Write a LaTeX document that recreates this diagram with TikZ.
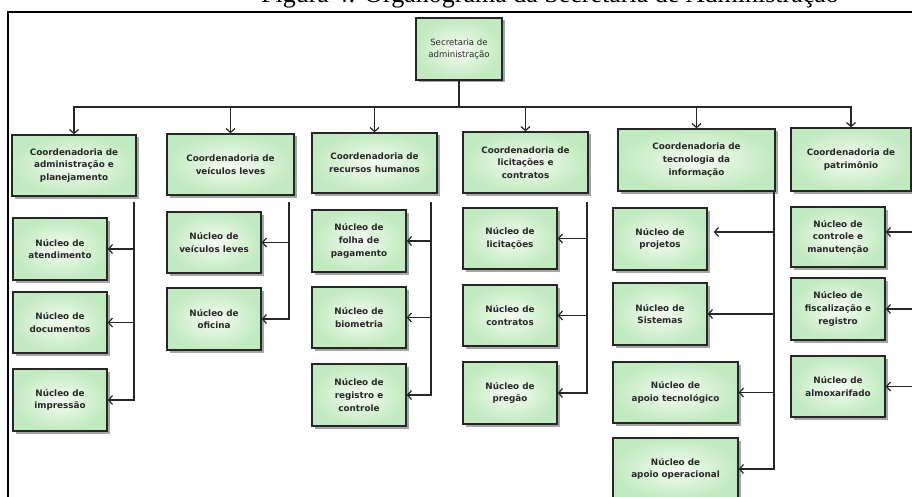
\documentclass[tikz,border=0pt]{standalone}
\usepackage{fontspec}
\usetikzlibrary{arrows.meta,shadows}
\newfontfamily\boxfont{DejaVu Sans}
\newfontfamily\titlefont{Liberation Serif}
\definecolor{boxin}{RGB}{244,252,242}
\definecolor{boxout}{RGB}{194,234,192}
\definecolor{boxtext}{RGB}{40,40,40}
\tikzset{
  orgbox/.style={draw=black!85, line width=1.4pt, inner sep=2pt, align=center,
    inner color=boxin, outer color=boxout, text=boxtext,
    font=\boxfont\bfseries\fontsize{8.8}{12.6}\selectfont,
    drop shadow={shadow xshift=2.5pt, shadow yshift=-2.5pt, opacity=0.35, fill=black}},
  wire/.style={draw=black!85, line width=1.6pt},
  arr/.style={wire, -{Straight Barb[length=4pt,width=9pt,line width=1.2pt]}},
}
\begin{document}
\begin{tikzpicture}[x=1pt,y=-1pt]
\useasboundingbox (0,0) rectangle (912,497);
\clip (0,0) rectangle (912,497);
\fill[white] (0,0) rectangle (912,497);
% title (cut at the top, as in the reference)
\node[anchor=base, inner sep=0pt, font=\titlefont\fontsize{26}{30}\selectfont] (title) at (550,2.5) {Figura 4: Organograma da Secretaria de Administração};
% frame
\draw[line width=1.2pt] (8,510) -- (8,12) -- (930,12);
% top
\node[orgbox, minimum width=86pt, minimum height=62pt, font=\boxfont\fontsize{8.6}{12.4}\selectfont] (sec) at (459,49) {Secretaria de\\administração};
% coordinations
\node[orgbox, minimum width=124pt, minimum height=61pt] (c1) at (74,165.5) {Coordenadoria de\\administração e\\planejamento};
\node[orgbox, minimum width=127pt, minimum height=61pt] (c2) at (230.5,164.5) {Coordenadoria de\\veículos leves};
\node[orgbox, minimum width=125pt, minimum height=60pt] (c3) at (374.5,163) {Coordenadoria de\\recursos humanos};
\node[orgbox, minimum width=125pt, minimum height=61pt] (c4) at (525.5,162.5) {Coordenadoria de\\licitações e\\contratos};
\node[orgbox, minimum width=157pt, minimum height=62pt] (c5) at (696.5,160) {Coordenadoria de\\tecnologia da\\informação};
\node[orgbox, minimum width=120pt, minimum height=63pt] (c6) at (851,159.5) {Coordenadoria de\\patrimônio};
% nuclei
\node[orgbox, minimum width=94pt, minimum height=62pt] (n1a) at (60,249) {Núcleo de\\atendimento};
\node[orgbox, minimum width=94pt, minimum height=61pt] (n1b) at (60,322.5) {Núcleo de\\documentos};
\node[orgbox, minimum width=94pt, minimum height=62pt] (n1c) at (60,400) {Núcleo de\\impressão};
\node[orgbox, minimum width=94pt, minimum height=61pt] (n2a) at (214,242.5) {Núcleo de\\veículos leves};
\node[orgbox, minimum width=94pt, minimum height=62pt] (n2b) at (214,319) {Núcleo de\\oficina};
\node[orgbox, minimum width=94pt, minimum height=62pt] (n3a) at (359,241) {Núcleo de\\folha de\\pagamento};
\node[orgbox, minimum width=94pt, minimum height=61pt] (n3b) at (359,317.5) {Núcleo de\\biometria};
\node[orgbox, minimum width=94pt, minimum height=62pt] (n3c) at (359,395) {Núcleo de\\registro e\\controle};
\node[orgbox, minimum width=94pt, minimum height=61pt] (n4a) at (510,238.5) {Núcleo de\\licitações};
\node[orgbox, minimum width=94pt, minimum height=61pt] (n4b) at (510,315.5) {Núcleo de\\contratos};
\node[orgbox, minimum width=94pt, minimum height=62pt] (n4c) at (510,393) {Núcleo de\\pregão};
\node[orgbox, minimum width=94pt, minimum height=62pt] (n5a) at (660,239) {Núcleo de\\projetos};
\node[orgbox, minimum width=94pt, minimum height=62pt] (n5b) at (660,314) {Núcleo de\\Sistemas};
\node[orgbox, minimum width=125pt, minimum height=61pt] (n5c) at (675.5,392.5) {Núcleo de\\apoio tecnológico};
\node[orgbox, minimum width=125pt, minimum height=62pt] (n5d) at (675.5,469) {Núcleo de\\apoio operacional};
\node[orgbox, minimum width=94pt, minimum height=60pt] (n6a) at (838,237) {Núcleo de\\controle e\\manutenção};
\node[orgbox, minimum width=94pt, minimum height=62pt] (n6b) at (838,309) {Núcleo de\\fiscalização e\\registro};
\node[orgbox, minimum width=94pt, minimum height=61pt] (n6c) at (838,386.5) {Núcleo de\\almoxarifado};
% bus
\coordinate (bus) at (459,107);
\draw[wire] (sec.south) -- (bus);
\foreach \c in {c1,c2,c3,c4,c5,c6} { \draw[arr] (bus) -| (\c.north); }
% branch spines
\coordinate (s1) at (134,202);
\coordinate (s2) at (289,202);
\coordinate (s3) at (431,202);
\coordinate (s4) at (587,202);
\coordinate (s5) at (774,191);
\coordinate (s6) at (918,196);
\draw[wire] (s1) -- (134,400);
\foreach \n in {n1a,n1b,n1c} { \draw[arr] (s1) |- (\n.east); }
\draw[wire] (s2) -- (289,319);
\foreach \n in {n2a,n2b} { \draw[arr] (s2) |- (\n.east); }
\draw[wire] (s3) -- (431,395);
\foreach \n in {n3a,n3b,n3c} { \draw[arr] (s3) |- (\n.east); }
\draw[wire] (s4) -- (587,393);
\foreach \n in {n4a,n4b,n4c} { \draw[arr] (s4) |- (\n.east); }
\draw[wire] (s5) -- (774,469);
\draw[arr, shorten >=6pt] (s5) |- ([yshift=7pt]n5a.east);
\foreach \n in {n5b,n5c,n5d} { \draw[arr] (s5) |- (\n.east); }
\draw[wire] (s6) -- (918,387);
\draw[arr] (s6) |- ([yshift=5pt]n6a.east);
\foreach \n in {n6b,n6c} { \draw[arr] (s6) |- (\n.east); }
\end{tikzpicture}
\end{document}
